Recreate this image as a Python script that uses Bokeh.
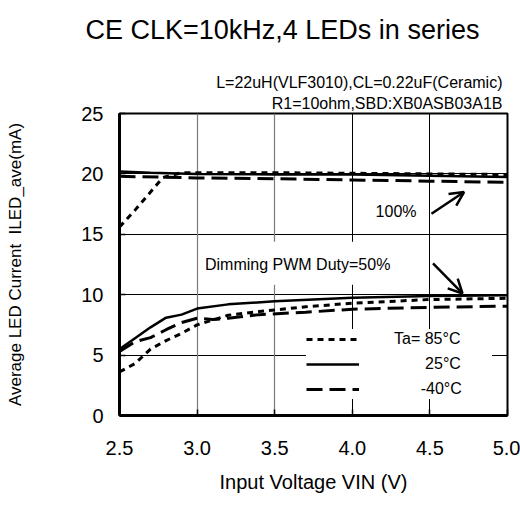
from bokeh.plotting import figure
from bokeh.models import (Range1d, FixedTicker, NumeralTickFormatter, Grid, Legend, LegendItem,
                          Label, Arrow, OpenHead, Title)
from bokeh.embed import file_html
from bokeh.resources import INLINE

FONT = "Liberation Sans"
NB = "\u00a0"

# ---- data ----
# 100% dimming duty
v100_85 = [2.5, 2.6, 2.7, 2.78, 2.9, 3.0, 3.5, 4.0, 4.5, 5.0]
i100_85 = [15.6, 17.0, 18.5, 19.7, 20.1, 20.1, 20.1, 20.05, 20.0, 19.95]
v100_25 = [2.5, 2.7, 3.0, 3.5, 4.0, 4.5, 5.0]
i100_25 = [20.2, 20.1, 20.0, 19.95, 19.95, 19.85, 19.75]
v100_m40 = [2.5, 3.0, 3.5, 4.0, 4.5, 5.0]
i100_m40 = [19.8, 19.67, 19.6, 19.5, 19.4, 19.3]
# 50% dimming duty
v50_85 = [2.5, 2.6, 2.7, 2.8, 2.9, 3.0, 3.2, 3.4, 3.7, 4.0, 4.5, 5.0]
i50_85 = [3.6, 4.3, 5.5, 6.2, 6.8, 7.5, 8.3, 8.6, 9.0, 9.3, 9.6, 9.7]
v50_25 = [2.5, 2.6, 2.7, 2.8, 2.9, 3.0, 3.2, 3.5, 4.0, 4.5, 5.0]
i50_25 = [5.5, 6.4, 7.3, 8.1, 8.35, 8.85, 9.2, 9.45, 9.75, 9.9, 9.95]
v50_m40 = [2.5, 2.6, 2.7, 2.8, 2.9, 3.0, 3.1, 3.2, 3.4, 3.7, 4.0, 4.5, 5.0]
i50_m40 = [5.3, 6.1, 6.45, 7.1, 7.7, 8.05, 7.95, 8.05, 8.35, 8.55, 8.8, 8.95, 9.05]

x_ticks = [2.5, 3.0, 3.5, 4.0, 4.5, 5.0]
y_ticks = [0, 5, 10, 15, 20, 25]

legend_labels = ["Ta= 85\u00b0C", NB * 7 + "25\u00b0C", NB * 6 + "-40\u00b0C"]

# annotation anchors (data units)
arrow100 = (4.51, 16.7, 4.72, 18.5)
arrow50 = (4.52, 12.6, 4.71, 10.1)
label100_pos = (4.15, 16.85)
label50_pos = (3.025, 12.6)

p = figure(width=520, height=518, output_backend="svg", toolbar_location=None,
           x_range=Range1d(2.5, 5.0), y_range=Range1d(0, 25), title=None,
           min_border_left=119, min_border_right=13, min_border_top=113, min_border_bottom=103)
p.background_fill_color = "white"
p.border_fill_color = "white"
p.outline_line_color = "black"
p.outline_line_width = 2

# titles (first added is nearest the frame)
p.add_layout(Title(text="R1=10ohm,SBD:XB0ASB03A1B", align="right", text_font=FONT,
                   text_font_size="16px", text_font_style="normal", text_color="black",
                   standoff=4, offset=5), "above")
p.add_layout(Title(text="L=22uH(VLF3010),CL=0.22uF(Ceramic)", align="right", text_font=FONT,
                   text_font_size="16px", text_font_style="normal", text_color="black",
                   standoff=0, offset=5), "above")
p.add_layout(Title(text="CE CLK=10kHz,4 LEDs in series", align="left", text_font=FONT,
                   text_font_size="27px", text_font_style="normal", text_color="black",
                   padding=(0, 0, 0, 27), standoff=0, offset=-34), "above")

# axes
for ax in (p.xaxis[0], p.yaxis[0]):
    ax.axis_line_width = 3
    ax.axis_line_color = "black"
    ax.major_tick_in = 6
    ax.major_tick_out = 0
    ax.minor_tick_line_color = None
    ax.major_tick_line_width = 1.5
    ax.major_label_text_font = FONT
    ax.major_label_text_font_size = "20px"
    ax.major_label_text_color = "black"
    ax.axis_label_text_font = FONT
    ax.axis_label_text_font_style = "normal"
    ax.axis_label_text_color = "black"

p.xaxis.ticker = FixedTicker(ticks=x_ticks)
p.xaxis.formatter = NumeralTickFormatter(format="0.0")
p.xaxis.major_label_standoff = 25
p.xaxis.axis_label = "Input Voltage VIN (V)"
p.xaxis.axis_label_text_font_size = "20px"
p.xaxis.axis_label_standoff = 13

p.yaxis.ticker = FixedTicker(ticks=y_ticks)
p.yaxis.formatter = NumeralTickFormatter(format="0")
p.yaxis.major_label_standoff = 16
p.yaxis.axis_label = "Average LED Current " + NB + "ILED_ave(mA)"
p.yaxis.axis_label_text_font_size = "17px"
p.yaxis.axis_label_standoff = 53

# grids
p.xgrid.visible = False
p.ygrid.ticker = FixedTicker(ticks=[5, 10, 15, 20])
p.ygrid.grid_line_color = "black"
p.ygrid.grid_line_width = 1
p.add_layout(Grid(dimension=0, ticker=FixedTicker(ticks=[3.0, 3.5]),
                  grid_line_color="#7a7a7a", grid_line_width=1.2))
p.add_layout(Grid(dimension=0, ticker=FixedTicker(ticks=[4.0, 4.5]),
                  grid_line_color="black", grid_line_width=1))

# labels
p.add_layout(Label(x=label50_pos[0], y=label50_pos[1], text="Dimming PWM Duty=50%",
                   text_font=FONT, text_font_size="16px", text_baseline="middle",
                   text_align="left", text_color="black", background_fill_color="white",
                   padding=(4, 4, 14, 12)))
p.add_layout(Label(x=label100_pos[0], y=label100_pos[1], text="100%",
                   text_font=FONT, text_font_size="16px", text_baseline="middle",
                   text_align="left", text_color="black"))

# lines
s85 = dict(line_color="black", line_width=3, line_dash="6 5")
s25 = dict(line_color="black", line_width=2.5)
sm40 = dict(line_color="black", line_width=3, line_dash="16 7")

r100_85 = p.line(v100_85, i100_85, **s85)
r100_25 = p.line(v100_25, i100_25, **s25)
r100_m40 = p.line(v100_m40, i100_m40, **sm40)
r50_85 = p.line(v50_85, i50_85, **s85)
r50_25 = p.line(v50_25, i50_25, **s25)
r50_m40 = p.line(v50_m40, i50_m40, **sm40)

# arrows
for a in (arrow100, arrow50):
    p.add_layout(Arrow(end=OpenHead(size=14, line_width=2.5, line_color="black"),
                       x_start=a[0], y_start=a[1], x_end=a[2], y_end=a[3],
                       line_width=2.5, line_color="black"))

legend = Legend(items=[LegendItem(label=legend_labels[0], renderers=[r50_85]),
                       LegendItem(label=legend_labels[1], renderers=[r50_25]),
                       LegendItem(label=legend_labels[2], renderers=[r50_m40])],
                location=(187, 16), orientation="vertical",
                glyph_width=53, glyph_height=20, label_height=20, label_width=98,
                label_standoff=35, spacing=5, padding=14, margin=0,
                border_line_color=None, background_fill_color="white", background_fill_alpha=1.0,
                label_text_font=FONT, label_text_font_size="16px", label_text_color="black")
p.add_layout(legend)

open("out.html", "w").write(file_html(p, INLINE))
